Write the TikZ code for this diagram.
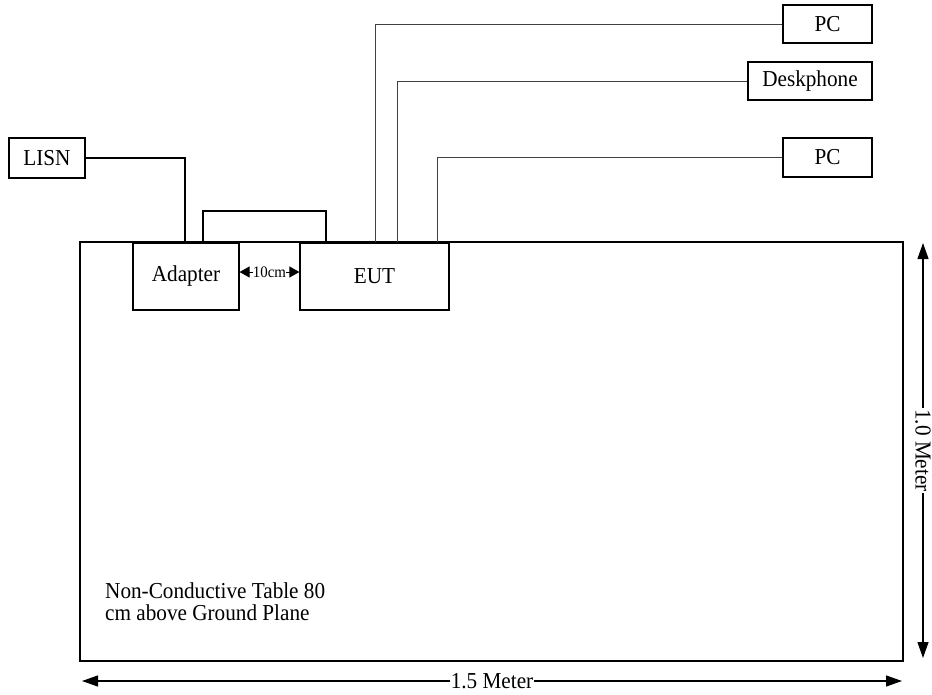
\documentclass[tikz,border=0pt]{standalone}
\usepackage{fontspec}
\setmainfont[FakeStretch=0.93]{Liberation Serif}
\usetikzlibrary{arrows.meta,calc}
\begin{document}
\begin{tikzpicture}[x=1pt,y=-1pt,
  box/.style={draw=black,line width=1.2pt,rectangle,inner sep=0pt,fill=white,
    font=\fontsize{22.8}{24}\selectfont},
  wire/.style={draw=black!75,line width=1pt},
  dim/.style={line width=1.2pt,{Triangle[length=16pt,width=11pt]}-{Triangle[length=16pt,width=11pt]}},
  lbl/.style={fill=white,inner sep=1pt,font=\fontsize{22.8}{24}\selectfont}]
\useasboundingbox (0,0) rectangle (932,694);
% table
\node[draw=black,line width=2.6pt,rectangle,inner sep=0pt,minimum width=823pt,minimum height=419pt] (table) at (491.5,451.5) {};
% coordinates on the table edge
\coordinate (lisnend) at (185,242);
\coordinate (loopA) at (203,242);
\coordinate (loopB) at (326,242);
\coordinate (e1) at (375,242);
\coordinate (e2) at (397,242);
\coordinate (e3) at (437,242);
% boxes
\node[box,minimum width=106pt,minimum height=67pt] (adapter) at (186,276.5) {Adapter};
\node[box,minimum width=149pt,minimum height=67pt] (eut) at (374.5,276.5) {EUT};
\node[box,minimum width=76pt,minimum height=40pt] (lisn) at (47,158) {LISN};
\node[box,minimum width=89pt,minimum height=38pt] (pc1) at (827.5,24) {PC};
\node[box,minimum width=124pt,minimum height=38pt] (desk) at (810,81) {Deskphone};
\node[box,minimum width=89pt,minimum height=39pt] (pc2) at (827.5,157.5) {PC};
% power cable
\draw[line width=2.6pt,line cap=rect] (lisn.east) -| (lisnend);
% loop cable between adapter and EUT
\draw[line width=1.2pt] (loopA) -- ++(0,-31) -| (loopB);
% EUT cables
\draw[wire] (e1) |- (pc1.west);
\draw[wire] (e2) |- (desk.west);
\draw[wire] (e3) |- (pc2.west);
% 10cm
\draw[line width=1pt,{Triangle[length=10pt,width=11pt]}-{Triangle[length=10pt,width=11pt]}] (adapter.east |- 0,272) -- node[fill=white,inner sep=0pt,font=\fontsize{16}{17}\selectfont]{10cm} (eut.west |- 0,272);
% dimensions
\coordinate (h1) at (82,681);
\coordinate (h2) at (902,681);
\draw[dim] (h1) -- node[lbl]{1.5 Meter} (h2);
\coordinate (v1) at (923,243);
\coordinate (v2) at (923,658);
\draw[dim] (v1) -- node[lbl,rotate=-90]{1.0 Meter} (v2);
% table label (base anchor = baseline of last line)
\node[anchor=base west,align=left,inner sep=0pt,font=\fontsize{22.8}{22}\selectfont] (tlabel) at (105,620) {Non-Conductive Table 80\\cm above Ground Plane};
\end{tikzpicture}
\end{document}
